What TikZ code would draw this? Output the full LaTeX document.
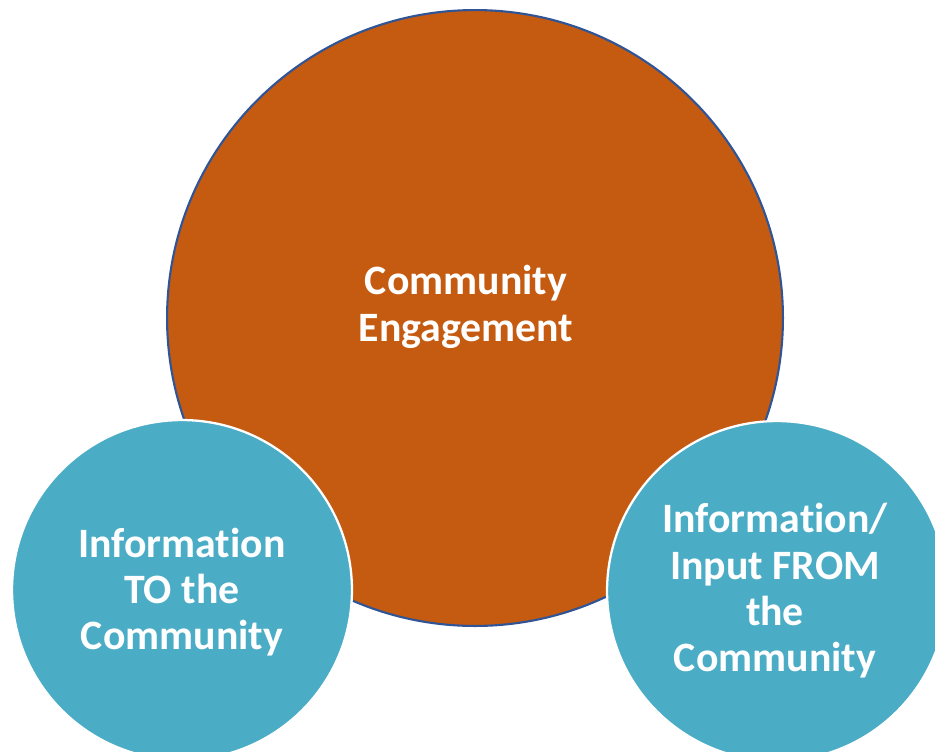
\documentclass[tikz,border=0pt]{standalone}
\usepackage{fontspec}
\setmainfont[Ligatures=NoCommon]{Carlito}
\usetikzlibrary{positioning}
\definecolor{engage}{HTML}{C55A11}
\definecolor{inform}{HTML}{4BACC6}
\definecolor{rim}{HTML}{2F5597}

\begin{document}
\begin{tikzpicture}
[x=0.02cm, y=-0.02cm,
bigcircle/.style={circle, draw=rim, line width=1.2pt, fill=engage, inner sep=0pt, minimum size=12.32cm},
smallcircle/.style={circle, draw=white, line width=1.3pt, fill=inform, inner sep=0pt, minimum size=6.8cm},
label/.style={text=white, align=center, font=\bfseries\fontsize{23.8}{26.4}\selectfont}]

\useasboundingbox (0,0) rectangle (935,751);

\node[bigcircle] (engagement) at (475,318) {};
\node[label] (engagementtext) at (466,307) {Community\\Engagement};

\node[smallcircle] (to) at (182,590) {};
\node[label] (totext) at (182,592) {Information\\TO the\\Community};

\node[smallcircle] (from) at (777,591) {};
\node[label] (fromtext) at (775,591) {Information/\\Input FROM\\the\\Community};

\end{tikzpicture}
\end{document}
